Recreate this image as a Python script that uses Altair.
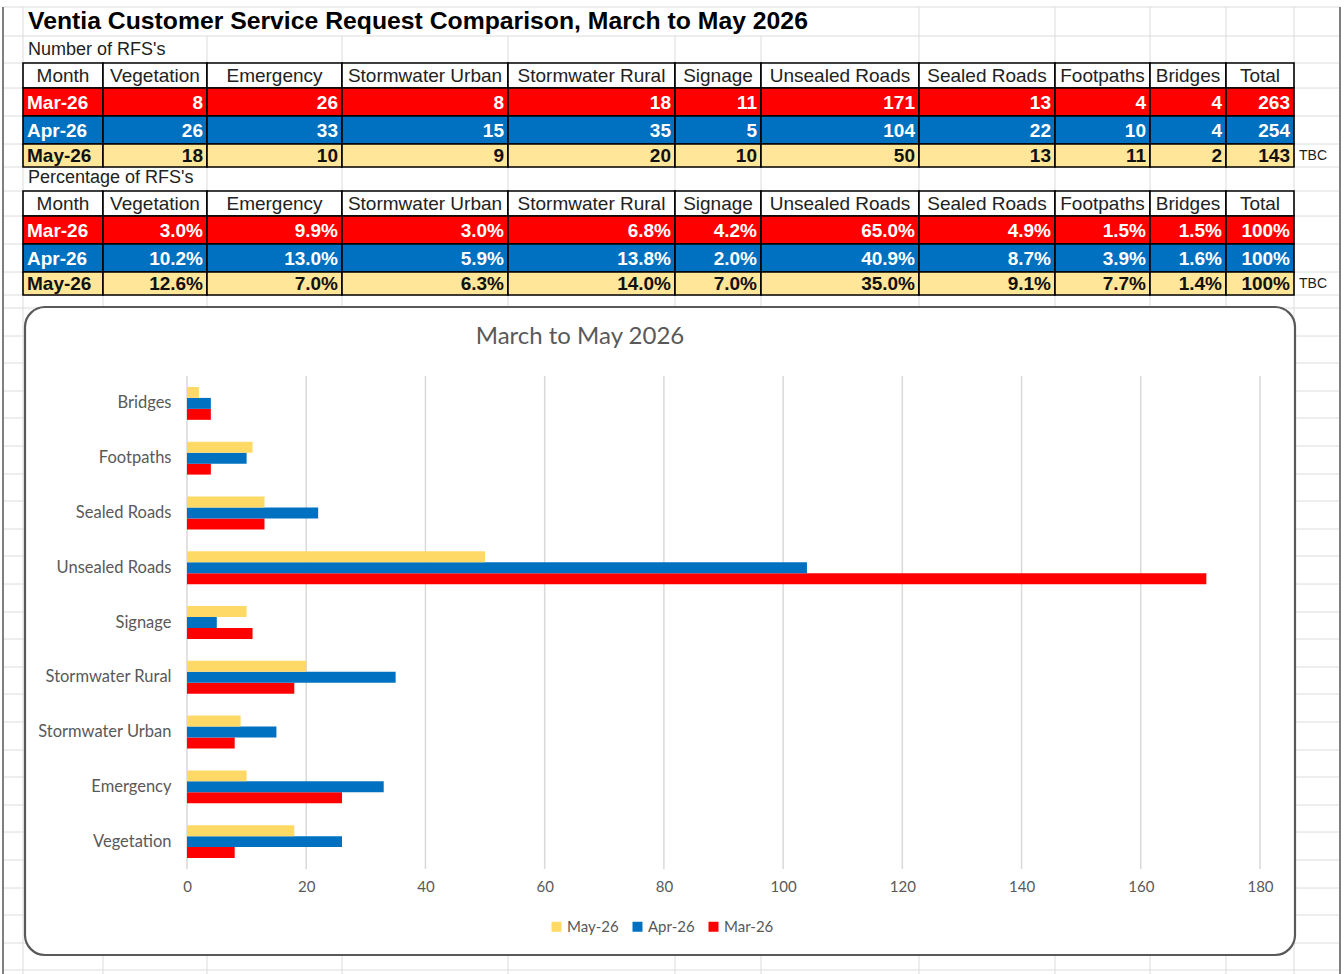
import altair as alt
import pandas as pd

# ---------------- data ----------------
categories = ["Vegetation", "Emergency", "Stormwater Urban", "Stormwater Rural", "Signage",
              "Unsealed Roads", "Sealed Roads", "Footpaths", "Bridges"]
months = ["Mar-26", "Apr-26", "May-26"]
rfs_mar = [8, 26, 8, 18, 11, 171, 13, 4, 4]
rfs_apr = [26, 33, 15, 35, 5, 104, 22, 10, 4]
rfs_may = [18, 10, 9, 20, 10, 50, 13, 11, 2]
rfs_total = [263, 254, 143]
pct_mar = ["3.0%", "9.9%", "3.0%", "6.8%", "4.2%", "65.0%", "4.9%", "1.5%", "1.5%"]
pct_apr = ["10.2%", "13.0%", "5.9%", "13.8%", "2.0%", "40.9%", "8.7%", "3.9%", "1.6%"]
pct_may = ["12.6%", "7.0%", "6.3%", "14.0%", "7.0%", "35.0%", "9.1%", "7.7%", "1.4%"]
pct_total = ["100%", "100%", "100%"]
row_notes = ["", "", "TBC"]
x_ticks = [0, 20, 40, 60, 80, 100, 120, 140, 160, 180]
legend_order = ["May-26", "Apr-26", "Mar-26"]

main_title = "Ventia Customer Service Request Comparison, March to May 2026"
table1_title = "Number of RFS's"
table2_title = "Percentage of RFS's"
chart_title = "March to May 2026"

# ---------------- layout / style ----------------
W, H = 1344, 974
PL, PR, PT, PB = 187, 1260, 376, 869
col_edges = [23, 103, 207, 342, 508, 675, 761, 919, 1055, 1150, 1226, 1294]
t1_rows = [63, 88, 116, 144, 167]
t2_rows = [191, 216, 244, 272, 295]
row_fill = {"Mar-26": "#FF0000", "Apr-26": "#0070C0", "May-26": "#FFE699"}
row_text = {"Mar-26": "#FFFFFF", "Apr-26": "#FFFFFF", "May-26": "#111111"}
bar_colors = {"May-26": "#FFD966", "Apr-26": "#0070C0", "Mar-26": "#FF0000"}
GRAY = "#595959"
SHEET_GRID = "#DCDCDC"
TFONT = "Liberation Sans"
CFONT = "Lato"

cx = alt.Scale(domain=[0, W], range=[-PL, W - PL], zero=False, nice=False)
cy = alt.Scale(domain=[0, H], range=[-PT, H - PT], zero=False, nice=False)


def X(f):
    return alt.X(f"{f}:Q", scale=cx, axis=None)


def Y(f):
    return alt.Y(f"{f}:Q", scale=cy, axis=None)


# ---------------- spreadsheet background grid ----------------
vlines = []
for e in col_edges:
    if e > 808 or e == 23:
        start = 7
    elif e >= 207:
        start = 36
    else:
        start = 295
    vlines.append(dict(x=e, y=start, y2=H))
vlines_df = pd.DataFrame(vlines)
hrows = [7, 36, 63, 88, 116, 144, 167, 191, 216, 244, 272, 295]
r = 308.0
while r < H:
    hrows.append(round(r))
    r += 27.6
hlines_df = pd.DataFrame([dict(x=3, x2=1340, y=v) for v in hrows])
edge_df = pd.DataFrame([dict(x=3, y=7, y2=H), dict(x=1340, y=7, y2=H)])

sheet_v = alt.Chart(vlines_df).mark_rule(color=SHEET_GRID, strokeWidth=1).encode(
    x=X("x"), y=Y("y"), y2="y2")
sheet_h = alt.Chart(hlines_df).mark_rule(color=SHEET_GRID, strokeWidth=1).encode(
    x=X("x"), x2="x2", y=Y("y"))
sheet_edge = alt.Chart(edge_df).mark_rule(color="#7F7F7F", strokeWidth=2).encode(
    x=X("x"), y=Y("y"), y2="y2")

# ---------------- tables ----------------
header = ["Month"] + categories + ["Total"]


def build_table(rows, series, totals):
    cells, head, labels, nums, notes = [], [], [], [], []
    for j, h in enumerate(header):
        cells.append(dict(x=col_edges[j], x2=col_edges[j + 1], y=rows[0], y2=rows[1], fill="#FFFFFF"))
        head.append(dict(x=(col_edges[j] + col_edges[j + 1]) / 2, y=(rows[0] + rows[1]) / 2 + 0.5, text=h))
    for i, m in enumerate(months):
        y0, y1 = rows[i + 1], rows[i + 2]
        ym = (y0 + y1) / 2 + 0.5
        vals = [str(v) for v in series[i]] + [str(totals[i])]
        for j in range(len(header)):
            cells.append(dict(x=col_edges[j], x2=col_edges[j + 1], y=y0, y2=y1, fill=row_fill[m]))
        labels.append(dict(x=col_edges[0] + 4, y=ym, text=m, tc=row_text[m]))
        for j, v in enumerate(vals):
            nums.append(dict(x=col_edges[j + 2] - 4, y=ym, text=v, tc=row_text[m]))
        if row_notes[i]:
            notes.append(dict(x=col_edges[-1] + 5, y=ym, text=row_notes[i]))
    cells = pd.DataFrame(cells)
    layers = [
        alt.Chart(cells).mark_rect(stroke="#000000", strokeWidth=1.6).encode(
            x=X("x"), x2="x2", y=Y("y"), y2="y2", fill=alt.Fill("fill:N", scale=None)),
        alt.Chart(pd.DataFrame(head)).mark_text(font=TFONT, fontSize=19, color="#222222",
                                                align="center", baseline="middle").encode(
            x=X("x"), y=Y("y"), text="text:N"),
        alt.Chart(pd.DataFrame(labels)).mark_text(font=TFONT, fontSize=19, fontWeight="bold",
                                                  align="left", baseline="middle").encode(
            x=X("x"), y=Y("y"), text="text:N", color=alt.Color("tc:N", scale=None)),
        alt.Chart(pd.DataFrame(nums)).mark_text(font=TFONT, fontSize=19, fontWeight="bold",
                                                align="right", baseline="middle").encode(
            x=X("x"), y=Y("y"), text="text:N", color=alt.Color("tc:N", scale=None)),
        alt.Chart(pd.DataFrame(notes)).mark_text(font=TFONT, fontSize=14, color="#222222",
                                                 align="left", baseline="middle").encode(
            x=X("x"), y=Y("y"), text="text:N"),
    ]
    return layers


table1 = build_table(t1_rows, [rfs_mar, rfs_apr, rfs_may], rfs_total)
table2 = build_table(t2_rows, [pct_mar, pct_apr, pct_may], pct_total)

main_t = alt.Chart(pd.DataFrame([dict(x=28, y=22, text=main_title)])).mark_text(
    font=TFONT, fontSize=24.75, fontWeight="bold", color="#000000", align="left", baseline="middle").encode(
    x=X("x"), y=Y("y"), text="text:N")
sub_t = alt.Chart(pd.DataFrame([dict(x=28, y=50, text=table1_title),
                                dict(x=28, y=178, text=table2_title)])).mark_text(
    font=TFONT, fontSize=18, color="#222222", align="left", baseline="middle").encode(
    x=X("x"), y=Y("y"), text="text:N")

# ---------------- chart box ----------------
box = alt.Chart(pd.DataFrame([dict(x=25, x2=1295, y=307, y2=955)])).mark_rect(
    cornerRadius=20, fill="#FFFFFF", stroke="#595959", strokeWidth=2.2).encode(
    x=X("x"), x2="x2", y=Y("y"), y2="y2")
chart_t = alt.Chart(pd.DataFrame([dict(x=580, y=337, text=chart_title)])).mark_text(
    font=CFONT, fontSize=24, color=GRAY, align="center", baseline="middle").encode(
    x=X("x"), y=Y("y"), text="text:N")

canvas = alt.layer(sheet_h, sheet_v, sheet_edge, main_t, sub_t, *table1, *table2, box, chart_t)

# ---------------- bar chart ----------------
bar_rows = []
for m, vals in zip(months, [rfs_mar, rfs_apr, rfs_may]):
    for c, v in zip(categories, vals):
        bar_rows.append(dict(category=c, month=m, value=v))
bar_df = pd.DataFrame(bar_rows)
tick_df = pd.DataFrame({"value": x_ticks})

xs = alt.Scale(domain=[x_ticks[0], x_ticks[-1]], nice=False)
x_axis = alt.Axis(values=x_ticks, grid=False, domain=False, ticks=False, tickSize=0,
                  labelPadding=10, labelFont=CFONT, labelFontSize=15, labelColor=GRAY,
                  labelFlush=False, title=None, orient="bottom", zindex=1)
gridlines = alt.Chart(tick_df).mark_rule(color="#D9D9D9", strokeWidth=1.5).encode(
    x=alt.X("value:Q", scale=xs, axis=x_axis))
bars = alt.Chart(bar_df).mark_bar().encode(
    x=alt.X("value:Q", scale=xs, axis=x_axis),
    y=alt.Y("category:N", sort=categories[::-1],
            scale=alt.Scale(paddingInner=0.40, paddingOuter=0.20),
            axis=alt.Axis(domain=False, ticks=False, tickSize=0, labelPadding=16, labelFont=CFONT,
                          labelFontSize=16.5, labelColor=GRAY, title=None, orient="left",
                          zindex=1, labelLimit=300)),
    yOffset=alt.YOffset("month:N", sort=legend_order),
    color=alt.Color("month:N",
                    scale=alt.Scale(domain=legend_order, range=[bar_colors[m] for m in legend_order]),
                    legend=alt.Legend(orient="none", legendX=362, legendY=543, direction="horizontal",
                                      title=None, symbolType="square", symbolSize=100,
                                      symbolStrokeWidth=0, labelFont=CFONT, labelFontSize=15,
                                      labelColor=GRAY, columnPadding=11, labelOffset=3, padding=0)),
)
bar_layer = alt.layer(gridlines, bars)

chart = alt.layer(canvas, bar_layer).resolve_scale(
    x="independent", y="independent"
).properties(
    width=PR - PL, height=PB - PT,
    padding={"left": PL, "top": PT, "right": W - PR, "bottom": H - PB},
    autosize=alt.AutoSizeParams(type="none"),
    background="#FFFFFF",
).configure_view(stroke=None)

chart.save("out.html", embed_options={"renderer": "svg", "actions": False})
